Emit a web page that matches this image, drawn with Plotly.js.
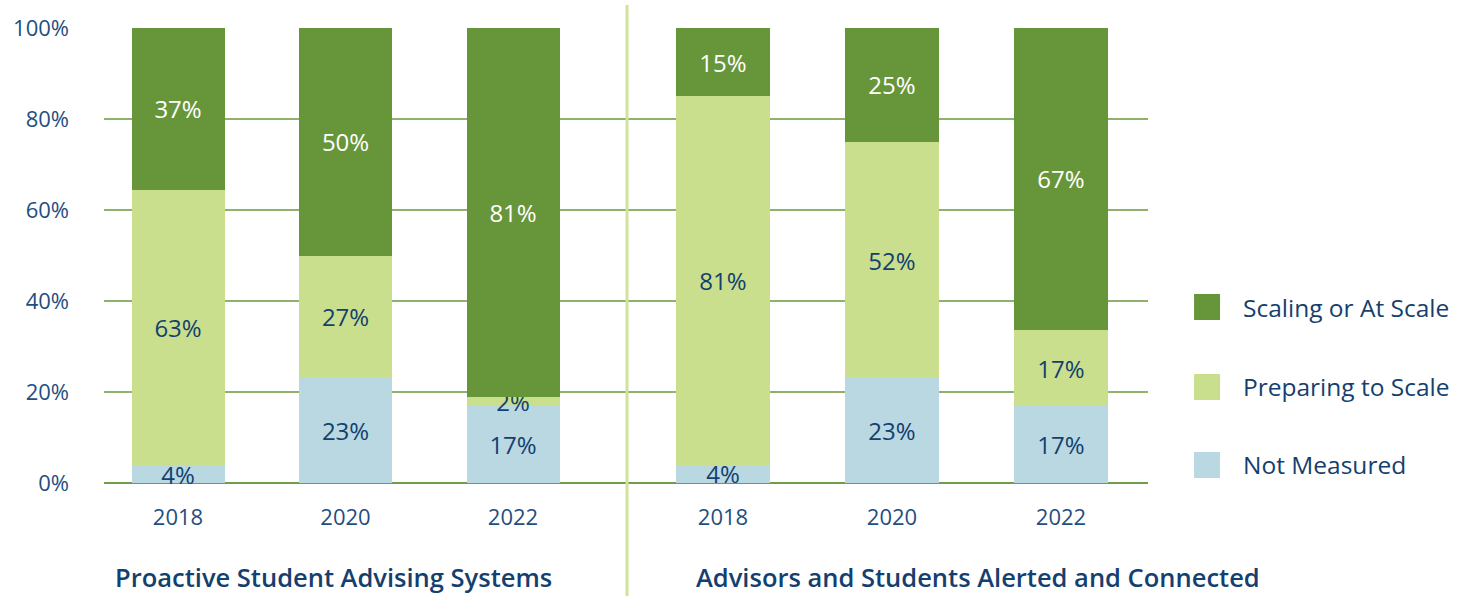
<!DOCTYPE html>
<html>
<head>
<meta charset="utf-8">
<script src="https://cdn.plot.ly/plotly-3.0.1.min.js"></script>
<style>html,body{margin:0;padding:0;background:#fff;}#chart{width:1471px;height:596px;}</style>
</head>
<body>
<div id="chart"></div>
<script>
// ---- data ----
var years = ['2018', '2020', '2022'];
var seriesNames = ['Scaling or At Scale', 'Preparing to Scale', 'Not Measured'];
var groupTitles = ['Proactive Student Advising Systems', 'Advisors and Students Alerted and Connected'];
var advisingScaling = [37, 50, 81];
var advisingPreparing = [63, 27, 2];
var advisingNotMeasured = [4, 23, 17];
var alertedScaling = [15, 25, 67];
var alertedPreparing = [81, 52, 17];
var alertedNotMeasured = [4, 23, 17];
var yTicks = [0, 20, 40, 60, 80, 100];

// ---- styles ----
var colors = {'Scaling or At Scale': '#67963a', 'Preparing to Scale': '#c9df8e', 'Not Measured': '#b9d8e2'};
var labelColors = {'Scaling or At Scale': '#ffffff', 'Preparing to Scale': '#143f6e', 'Not Measured': '#143f6e'};
var FONT = 'Open Sans, Noto Sans, sans-serif';
var navy = '#143f6e';

function pct(arr) { return arr.map(function (v) { return v + '%'; }); }

function barTrace(name, values, xa) {
  return {
    type: 'bar', name: name, x: years, y: values, xaxis: xa, yaxis: 'y',
    marker: {color: colors[name]},
    text: pct(values), textposition: 'inside', insidetextanchor: 'middle', textangle: 0,
    insidetextfont: {family: FONT, size: 24, color: labelColors[name]},
    hoverinfo: 'skip', showlegend: false, cliponaxis: false
  };
}

var traces = [
  barTrace('Not Measured', advisingNotMeasured, 'x'),
  barTrace('Preparing to Scale', advisingPreparing, 'x'),
  barTrace('Scaling or At Scale', advisingScaling, 'x'),
  barTrace('Not Measured', alertedNotMeasured, 'x2'),
  barTrace('Preparing to Scale', alertedPreparing, 'x2'),
  barTrace('Scaling or At Scale', alertedScaling, 'x2')
];

// custom legend (squares + text) built from the series names
var legendY = [0.3868, 0.211, 0.0396];
var shapes = [{
  type: 'line', xref: 'paper', yref: 'paper', x0: 0.501, x1: 0.501, y0: -0.25, y1: 1.0505,
  line: {color: '#cfe39a', width: 3}, layer: 'above'
}];
var annotations = [];
seriesNames.forEach(function (n, i) {
  shapes.push({type: 'rect', xref: 'paper', yref: 'paper', x0: 1.0441, x1: 1.069,
    y0: legendY[i] - 0.0286, y1: legendY[i] + 0.0286, fillcolor: colors[n], line: {width: 0}});
  annotations.push({xref: 'paper', yref: 'paper', x: 1.0895, y: legendY[i], xanchor: 'left', yanchor: 'middle',
    text: n, showarrow: false, font: {family: FONT, size: 24.5, color: navy}});
});
var titleX = [0.0086, 0.5651];
groupTitles.forEach(function (t, i) {
  annotations.push({xref: 'paper', yref: 'paper', x: titleX[i], y: -0.2066, xanchor: 'left', yanchor: 'middle',
    text: t, showarrow: false, font: {family: FONT, size: 25.5, color: navy, weight: 600}});
});

var xCommon = {
  type: 'category', showgrid: false, zeroline: false, showline: false, ticks: '',
  tickfont: {family: FONT, size: 22, color: '#1f4e80'}, ticklabelstandoff: 19, fixedrange: true
};

var layout = {
  width: 1471, height: 596,
  margin: {l: 104, r: 323, t: 28, b: 113},
  paper_bgcolor: '#ffffff', plot_bgcolor: '#ffffff',
  barmode: 'stack', barnorm: 'percent', bargap: 0.445,
  showlegend: false,
  uniformtext: {mode: 'show', minsize: 24},
  xaxis: Object.assign({}, xCommon, {domain: [0, 1], range: [-0.442, 5.791]}),
  xaxis2: Object.assign({}, xCommon, {domain: [0, 1], range: [-3.663, 2.515], overlaying: 'x', anchor: 'y'}),
  yaxis: {
    range: [0, 100], tickvals: yTicks, ticktext: yTicks.map(function (v) { return v + '%'; }),
    showgrid: true, gridcolor: '#8db26a', gridwidth: 2,
    zeroline: true, zerolinecolor: '#6e9e45', zerolinewidth: 2,
    showline: false, ticks: '', ticklabelstandoff: 34,
    tickfont: {family: FONT, size: 22, color: '#1f4e80'}, fixedrange: true
  },
  shapes: shapes,
  annotations: annotations
};

Plotly.newPlot('chart', traces, layout, {displayModeBar: false, staticPlot: true});
</script>
</body>
</html>
